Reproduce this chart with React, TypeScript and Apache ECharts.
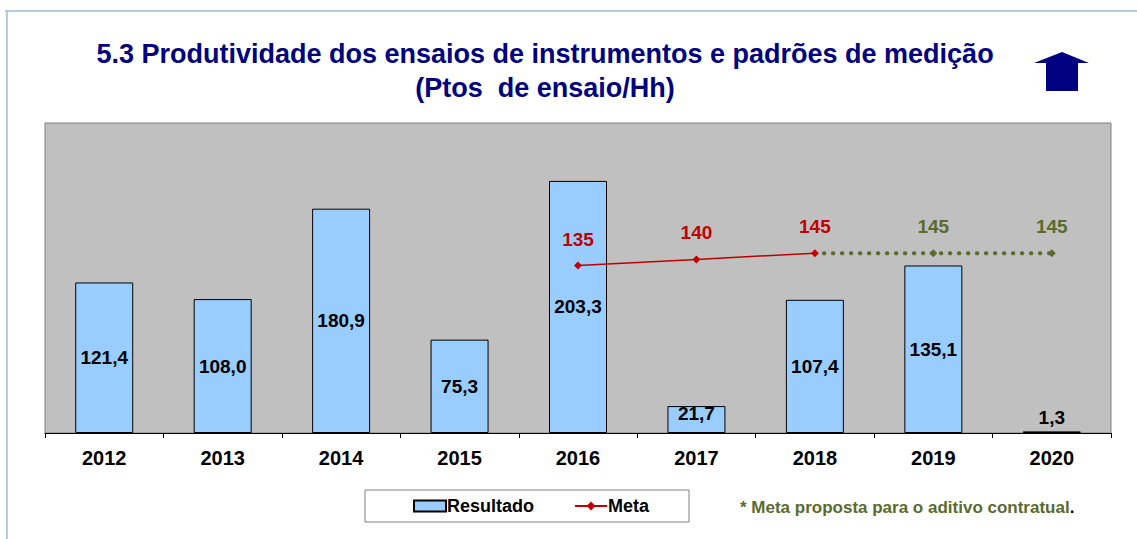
import React, { useEffect, useRef } from "react";
import * as echarts from "echarts";

const years = ["2012", "2013", "2014", "2015", "2016", "2017", "2018", "2019", "2020"];
const resultado = [121.4, 108.0, 180.9, 75.3, 203.3, 21.7, 107.4, 135.1, 1.3];
const meta = [null, null, null, null, 135, 140, 145, null, null];
const metaProposta = [null, null, null, null, null, null, 145, 145, 145];

const titleLine1 = "5.3 Produtividade dos ensaios de instrumentos e padrões de medição";
const titleLine2 = "(Ptos  de ensaio/Hh)";
const footnote = "* Meta proposta para o aditivo contratual";

const RED = "#C00000";
const OLIVE = "#5A6B2B";
const NAVY = "#000080";
const FONT = "'Liberation Sans', Arial, sans-serif";

export default function App() {
  const ref = useRef<HTMLDivElement>(null);
  useEffect(() => {
    document.body.style.margin = "0";
    const chart = echarts.init(ref.current!, null, { renderer: "svg" });
    const fmt = (v: number) => v.toFixed(1).replace(".", ",");
    chart.setOption({
      animation: false,
      backgroundColor: "#ffffff",
      textStyle: { fontFamily: FONT },
      grid: {
        left: 45,
        right: 26,
        top: 123,
        bottom: 106,
        show: true,
        backgroundColor: "#C0C0C0",
        borderColor: "#808080",
        borderWidth: 1,
      },
      xAxis: {
        type: "category",
        data: years,
        axisLine: { lineStyle: { color: "#000", width: 1 } },
        axisTick: { show: true, length: 5, lineStyle: { color: "#000" } },
        axisLabel: { color: "#000", fontWeight: "bold", fontSize: 20, margin: 15, fontFamily: FONT },
      },
      yAxis: {
        type: "value",
        min: 0,
        max: 250,
        show: false,
        splitLine: { show: false },
      },
      legend: {
        data: [
          { name: "Resultado", icon: "rect" },
          { name: "Meta" },
        ],
        left: 365,
        top: 490,
        padding: [7, 40, 7, 48],
        itemGap: 40,
        itemWidth: 32,
        itemHeight: 11,
        backgroundColor: "#ffffff",
        borderColor: "#808080",
        borderWidth: 1,
        borderRadius: 0,
        textStyle: { color: "#000", fontSize: 18, fontWeight: "bold", fontFamily: FONT, padding: [0, 0, 0, -4] },
      },
      series: [
        {
          name: "Resultado",
          type: "bar",
          data: resultado.map((v, i) => ({
            value: v,
            label: i === 8 ? { position: "top", distance: 4 } : i === 5 ? { position: "inside", offset: [0, -6] } : undefined,
          })),
          barWidth: 58,
          itemStyle: { color: "#99CCFF", borderColor: "#000", borderWidth: 1 },
          label: {
            show: true,
            position: "inside",
            color: "#000",
            fontWeight: "bold",
            fontSize: 19,
            fontFamily: FONT,
            formatter: (p: any) => fmt(p.value),
          },
        },
        {
          name: "Meta",
          type: "line",
          data: meta,
          symbol: "diamond",
          symbolSize: 8,
          itemStyle: { color: RED },
          lineStyle: { color: RED, width: 1.5 },
          z: 5,
          label: {
            show: true,
            position: "top",
            distance: 13,
            color: RED,
            fontWeight: "bold",
            fontSize: 19,
            fontFamily: FONT,
          },
        },
        {
          name: "Meta proposta",
          type: "line",
          data: metaProposta.map((v, i) => ({
            value: v,
            symbol: i === 6 ? "none" : "diamond",
            label: { show: i !== 6 },
          })),
          symbol: "diamond",
          symbolSize: 8,
          itemStyle: { color: OLIVE },
          lineStyle: { color: OLIVE, width: 4, type: [0.5, 8.5], cap: "round" },
          z: 4,
          label: {
            show: true,
            position: "top",
            distance: 13,
            color: OLIVE,
            fontWeight: "bold",
            fontSize: 19,
            fontFamily: FONT,
          },
        },
      ],
      graphic: [
        { type: "line", shape: { x1: 5, y1: 11, x2: 1137, y2: 11 }, style: { stroke: "#9DBBD9", lineWidth: 1.5 } },
        { type: "line", shape: { x1: 7, y1: 11, x2: 7, y2: 539 }, style: { stroke: "#9DBBD9", lineWidth: 1.5 } },
        {
          type: "text",
          x: 545,
          y: 54,
          style: { text: titleLine1, fill: NAVY, font: `bold 27px ${FONT}`, textAlign: "center", textVerticalAlign: "middle" },
        },
        {
          type: "text",
          x: 545,
          y: 88,
          style: { text: titleLine2, fill: NAVY, font: `bold 27px ${FONT}`, textAlign: "center", textVerticalAlign: "middle" },
        },
        {
          type: "polygon",
          shape: {
            points: [
              [1062, 52], [1089, 63], [1078, 63], [1078, 91], [1046, 91], [1046, 63], [1034, 63],
            ],
          },
          style: { fill: NAVY },
        },
        {
          type: "text",
          x: 740,
          y: 507,
          style: {
            text: `{g|${footnote}}{b|.}`,
            textVerticalAlign: "middle",
            rich: {
              g: { fill: OLIVE, font: `bold 17px ${FONT}` },
              b: { fill: "#000", font: `bold 17px ${FONT}` },
            },
          },
        },
      ],
    });
    return () => chart.dispose();
  }, []);
  return <div ref={ref} style={{ width: 1137, height: 539 }} />;
}
